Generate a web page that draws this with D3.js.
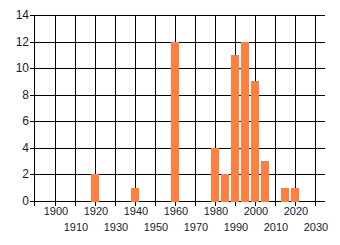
<!DOCTYPE html>
<html><head><meta charset="utf-8">
<script src="https://cdn.jsdelivr.net/npm/d3@7"></script>
<style>html,body{margin:0;padding:0;background:#fff;}svg{display:block;}</style>
</head><body>
<svg id="c" width="340" height="245"></svg>
<script>
const years = [1920, 1940, 1960, 1980, 1985, 1990, 1995, 2000, 2005, 2015, 2020];
const counts = [2, 1, 12, 4, 2, 11, 12, 9, 3, 1, 1];
const xTicks = [1900,1910,1920,1930,1940,1950,1960,1970,1980,1990,2000,2010,2020,2030];
const yTicks = [0,2,4,6,8,10,12,14];

const svg = d3.select("#c");
const x = d3.scaleLinear().domain([1890, 2035]).range([35, 325]);
const y = d3.scaleLinear().domain([0, 14]).range([201, 15]);
const font = "'Liberation Sans', Arial, sans-serif";

// grid
const g = svg.append("g").attr("shape-rendering","crispEdges").attr("stroke","#000").attr("stroke-width",1);
g.selectAll(".h").data(yTicks).join("line")
  .attr("x1", 30).attr("x2", 325)
  .attr("y1", d => Math.round(y(d)) + 0.5).attr("y2", d => Math.round(y(d)) + 0.5);
g.selectAll(".v").data(xTicks).join("line")
  .attr("x1", d => Math.round(x(d)) + 0.5).attr("x2", d => Math.round(x(d)) + 0.5)
  .attr("y1", 15).attr("y2", 206);
// left axis
g.append("line").attr("x1", 34.5).attr("x2", 34.5).attr("y1", 15).attr("y2", 206);

// bars
svg.append("g").attr("shape-rendering","crispEdges").selectAll("rect").data(years).join("rect")
  .attr("x", d => Math.round(x(d - 2)))
  .attr("width", (d) => Math.round(x(d + 2)) - Math.round(x(d - 2)))
  .attr("y", (d,i) => Math.round(y(counts[i])))
  .attr("height", (d,i) => Math.round(y(0)) - Math.round(y(counts[i])) + 1)
  .attr("fill", "#FF7F3F");

// y labels
svg.append("g").selectAll("text").data(yTicks).join("text")
  .attr("x", 29).attr("y", d => y(d) + 4)
  .attr("text-anchor","end").attr("font-family", font).attr("font-size", 12)
  .attr("fill","#1a1a2e").text(d => d);

// x labels (staggered)
svg.append("g").selectAll("text").data(xTicks).join("text")
  .attr("x", d => x(d) + 1)
  .attr("y", (d,i) => i % 2 === 0 ? 215 : 231)
  .attr("text-anchor","middle").attr("font-family", font).attr("font-size", 11)
  .attr("fill","#1a1a2e").text(d => d);
</script>
</body></html>
